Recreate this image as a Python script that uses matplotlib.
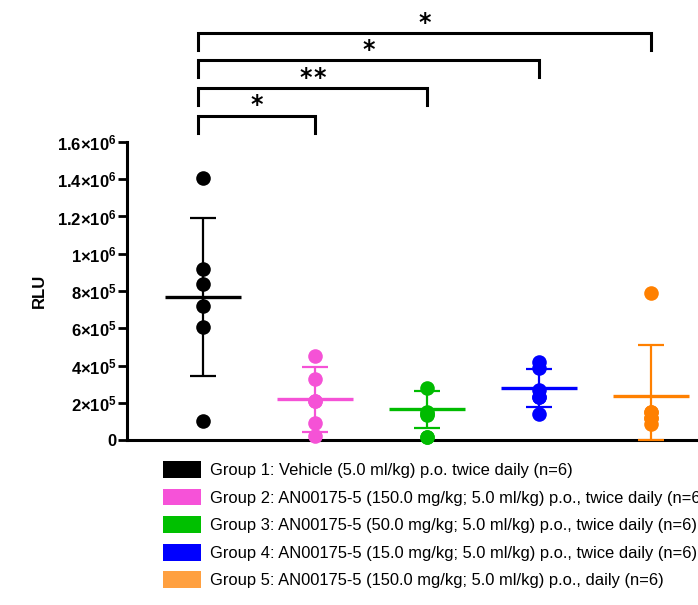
import numpy as np
import matplotlib
matplotlib.use("Agg")
import matplotlib.pyplot as plt
from matplotlib.patches import Patch

plt.rcParams['font.family'] = ['Liberation Sans', 'DejaVu Sans']
plt.rcParams['mathtext.fontset'] = 'custom'
plt.rcParams['mathtext.bf'] = 'Liberation Sans:bold'
plt.rcParams['mathtext.rm'] = 'Liberation Sans:bold'
plt.rcParams['mathtext.default'] = 'bf'

### values
groups = ["Group 1: Vehicle (5.0 ml/kg) p.o. twice daily (n=6)",
          "Group 2: AN00175-5 (150.0 mg/kg; 5.0 ml/kg) p.o., twice daily (n=6)",
          "Group 3: AN00175-5 (50.0 mg/kg; 5.0 ml/kg) p.o., twice daily (n=6)",
          "Group 4: AN00175-5 (15.0 mg/kg; 5.0 ml/kg) p.o., twice daily (n=6)",
          "Group 5: AN00175-5 (150.0 mg/kg; 5.0 ml/kg) p.o., daily (n=6)"]
points = [[1.407e6, 0.918e6, 0.836e6, 0.721e6, 0.608e6, 0.104e6],
          [0.453e6, 0.326e6, 0.209e6, 0.209e6, 0.090e6, 0.021e6],
          [0.277e6, 0.152e6, 0.140e6, 0.135e6, 0.018e6, 0.018e6],
          [0.420e6, 0.385e6, 0.268e6, 0.233e6, 0.233e6, 0.140e6],
          [0.789e6, 0.152e6, 0.116e6, 0.084e6, 0.152e6, 0.116e6]]
means = [0.766e6, 0.218e6, 0.165e6, 0.278e6, 0.236e6]
sds = [0.425e6, 0.176e6, 0.099e6, 0.103e6, 0.274e6]
plot_colors = ["#000000", "#f552d6", "#00bb00", "#0000ff", "#ff8000"]
legend_colors = ["#000000", "#f652d8", "#00c000", "#0000ff", "#ffa040"]
comparisons = [(0, 1, "*"), (0, 2, "**"), (0, 3, "*"), (0, 4, "*")]
bracket_y = [1.74e6, 1.89e6, 2.04e6, 2.185e6]
yticks = [0, 2e5, 4e5, 6e5, 8e5, 1e6, 1.2e6, 1.4e6, 1.6e6]
ytick_labels = ["0", r"2$\times$10$^5$", r"4$\times$10$^5$", r"6$\times$10$^5$", r"8$\times$10$^5$",
                r"1$\times$10$^6$", r"1.2$\times$10$^6$", r"1.4$\times$10$^6$", r"1.6$\times$10$^6$"]

fig = plt.figure(figsize=(6.98, 6.05), dpi=100)
ax = fig.add_axes([127 / 698, 1 - 440 / 605, 571 / 698, 298 / 605])

for i in range(len(groups)):
    c = plot_colors[i]
    m = means[i]
    lo = min(sds[i], m)
    eb = ax.errorbar([i], [m], yerr=[[lo], [sds[i]]], fmt="none", ecolor=c,
                     elinewidth=1.6, capsize=9.5, capthick=1.6, zorder=3)
    for art in eb.lines[1] + eb.lines[2]:
        art.set_clip_on(False)
    ax.plot([i - 0.34, i + 0.34], [m, m], color=c, lw=2.4, zorder=3,
            solid_capstyle='butt')
    ax.plot(np.full(len(points[i]), i), points[i], 'o', color=c, ms=10.5,
            mec='none', zorder=4, clip_on=False)

### significance brackets
drop = 0.09e6
for (a, b, s), yb in zip(comparisons, bracket_y):
    xa = a - 0.045
    ax.plot([xa, xa, b, b], [yb - drop, yb, yb, yb - drop], color='black',
            lw=2.2, clip_on=False, solid_joinstyle='miter')
    n = len(s)
    for k, ch in enumerate(s):
        # stars are spaced a little wider than the font does it
        ax.annotate(ch, xy=((xa + b) / 2, yb), xytext=((k - (n - 1) / 2) * 10.1, 2.5),
                    textcoords='offset points', ha='center', va='baseline',
                    fontsize=17, fontweight='bold', family='DejaVu Sans',
                    annotation_clip=False)

ax.set_xlim(-0.679, 4.42)
ax.set_ylim(0, 1.6e6)
ax.set_yticks(yticks)
ax.set_yticklabels(ytick_labels, fontsize=12, fontweight='bold')
ax.set_xticks([])
ax.spines['top'].set_visible(False)
ax.spines['right'].set_visible(False)
ax.spines['left'].set_linewidth(2.2)
ax.spines['bottom'].set_linewidth(2.2)
ax.tick_params(axis='y', width=2.0, length=6.5, pad=1)
ax.set_ylabel("RLU", fontsize=12, fontweight='bold', labelpad=7)

handles = [Patch(facecolor=c, edgecolor='none') for c in legend_colors]
fig.legend(handles, groups, loc='upper left', bbox_to_anchor=(158 / 698, 1 - 456 / 605),
           frameon=False, fontsize=11.85, handlelength=2.31, handleheight=1.21,
           handletextpad=0.55, labelspacing=0.64, borderaxespad=0, borderpad=0.3)

fig.savefig("out.png", dpi=100)
